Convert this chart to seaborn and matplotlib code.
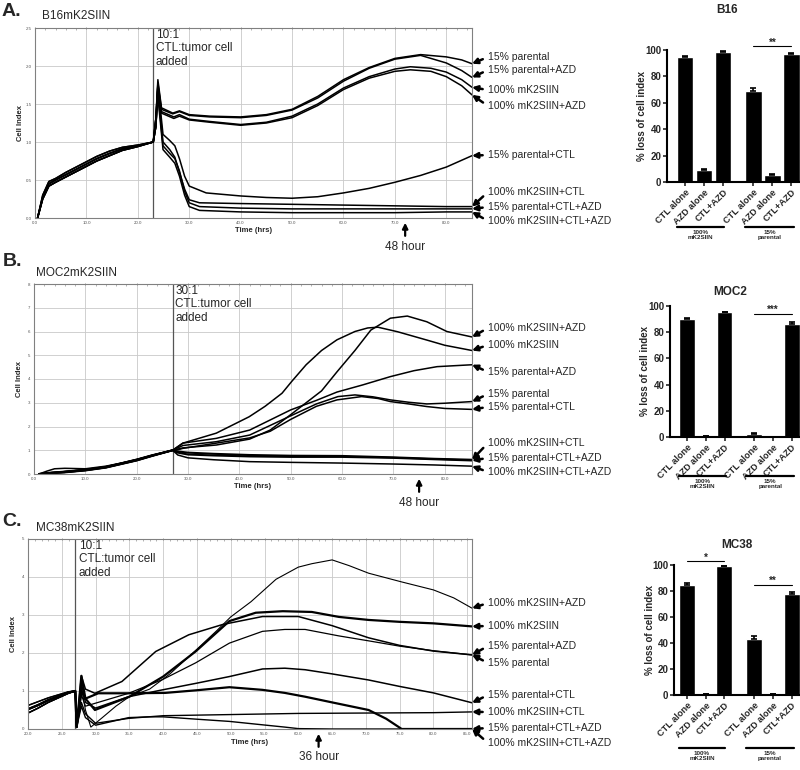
import matplotlib
matplotlib.use("Agg")
import matplotlib.pyplot as plt
import matplotlib.transforms as mtransforms
from matplotlib.ticker import MultipleLocator, FormatStrFormatter
import seaborn as sns

sns.set_theme(style="white")
plt.rcParams["font.family"] = ["Liberation Sans", "DejaVu Sans"]

# ---------------- A. B16mK2SIIN  (hours, cell index) ----------------
A_PRE_HI = [(0.5, 0.0), (1.5, 0.3), (2.7, 0.48), (4, 0.52), (6, 0.6), (8, 0.67), (10, 0.74),
            (12, 0.81), (14.5, 0.88), (17, 0.93), (20, 0.96), (23, 1.0)]
A_PRE_MID = [(0.5, 0.0), (1.5, 0.27), (2.7, 0.45), (4, 0.5), (6, 0.57), (8, 0.64), (10, 0.71),
             (12, 0.78), (14.5, 0.85), (17, 0.91), (20, 0.95), (23, 1.0)]
A_PRE_LO = [(0.5, 0.0), (1.5, 0.25), (2.7, 0.42), (4, 0.47), (6, 0.54), (8, 0.61), (10, 0.68),
            (12, 0.75), (14.5, 0.82), (17, 0.89), (20, 0.94), (23, 1.0)]

A_15 = [(23.5, 1.3), (23.9, 1.82), (24.6, 1.45), (26.8, 1.38), (28.1, 1.41), (30, 1.36), (34, 1.34),
        (40, 1.33), (45, 1.36), (50, 1.43), (55, 1.6), (60, 1.82), (65, 1.98), (70, 2.1), (75, 2.15),
        (80, 2.12), (83, 2.08), (85, 2.03)]
A_15_AZD = [(23.5, 1.3), (23.9, 1.78), (24.6, 1.43), (26.8, 1.37), (28.1, 1.4), (30, 1.35), (34, 1.33),
            (40, 1.32), (45, 1.35), (50, 1.42), (55, 1.58), (60, 1.8), (65, 1.97), (70, 2.09), (75, 2.14),
            (80, 2.04), (83, 1.94), (85, 1.85)]
A_100 = [(23.5, 1.3), (23.9, 1.75), (24.6, 1.4), (27, 1.33), (28.1, 1.36), (30, 1.3), (34, 1.27),
         (40, 1.23), (45, 1.26), (50, 1.34), (55, 1.5), (60, 1.71), (65, 1.86), (70, 1.96), (73, 1.99),
         (77, 1.97), (80, 1.92), (83, 1.82), (85, 1.72)]
A_100_AZD = [(23.5, 1.3), (23.9, 1.7), (24.6, 1.38), (27, 1.31), (28.1, 1.34), (30, 1.29), (34, 1.26),
             (40, 1.22), (45, 1.25), (50, 1.32), (55, 1.48), (60, 1.69), (65, 1.84), (70, 1.93), (73, 1.95),
             (77, 1.93), (80, 1.86), (83, 1.74), (85, 1.62)]
A_15_CTL = [(23.5, 1.2), (23.9, 1.75), (24.9, 1.1), (26.2, 1.02), (27.2, 0.95), (28.1, 0.78), (29.1, 0.55),
            (30, 0.42), (33.3, 0.33), (40, 0.29), (45, 0.27), (50, 0.26), (55, 0.28), (60, 0.33),
            (65, 0.39), (70, 0.47), (75, 0.56), (80, 0.67), (85, 0.82)]
A_100_CTL = [(23.5, 1.2), (23.9, 1.7), (24.9, 1.0), (26.2, 0.9), (27.2, 0.8), (28.1, 0.6), (29.1, 0.38),
             (30, 0.24), (32, 0.2), (40, 0.19), (50, 0.18), (60, 0.17), (70, 0.16), (80, 0.15), (85, 0.15)]
A_15_CTL_AZD = [(23.5, 1.2), (23.9, 1.65), (24.9, 0.95), (26.2, 0.85), (27.2, 0.78), (28.1, 0.62),
                (29.1, 0.35), (30, 0.2), (32, 0.15), (40, 0.13), (50, 0.12), (60, 0.12), (70, 0.12),
                (80, 0.12), (85, 0.12)]
A_100_CTL_AZD = [(23.5, 1.2), (23.9, 1.6), (24.9, 0.9), (26.2, 0.8), (27.2, 0.72), (28.1, 0.55),
                 (29.1, 0.3), (30, 0.15), (32, 0.1), (40, 0.08), (50, 0.07), (60, 0.07), (70, 0.07),
                 (80, 0.08), (85, 0.08)]

# ---------------- B. MOC2mK2SIIN ----------------
B_PRE_A = [(1, 0.0), (3, 0.05), (6, 0.1), (10, 0.18), (14, 0.3), (17, 0.45), (20, 0.6), (23, 0.78), (27, 1.0)]
B_PRE_B = [(1, 0.0), (2.5, 0.12), (4, 0.22), (6, 0.24), (8, 0.23), (10, 0.22), (14, 0.33), (17, 0.46),
           (20, 0.62), (23, 0.8), (27, 1.0)]
B_PRE_C = [(1, 0.0), (3, 0.03), (6, 0.07), (10, 0.15), (14, 0.27), (17, 0.42), (20, 0.57), (23, 0.76), (27, 1.0)]

B_100_AZD = [(28, 1.05), (29, 1.1), (35.5, 1.22), (42, 1.47), (46, 1.85), (50, 2.5), (53, 3.0), (56, 3.5),
             (59, 4.3), (62.5, 5.2), (65.6, 6.06), (69.4, 6.56), (72.7, 6.65), (76.5, 6.41), (80.4, 6.0),
             (85.3, 5.77)]
B_100 = [(28, 1.15), (29, 1.3), (35.5, 1.72), (41.9, 2.41), (45, 2.85), (48.3, 3.4), (50.2, 3.9), (53, 4.6),
         (56, 5.2), (59, 5.65), (62.5, 6.0), (65, 6.15), (67, 6.18), (70.8, 5.99), (76.5, 5.64), (80, 5.42),
         (85.3, 5.2)]
B_15_AZD = [(28, 1.15), (29, 1.3), (35.5, 1.5), (42, 1.85), (50, 2.7), (55, 3.1), (59, 3.45), (64, 3.75),
            (69.4, 4.1), (74, 4.35), (78.5, 4.52), (85.3, 4.6)]
B_15 = [(28, 1.1), (29, 1.2), (35.5, 1.36), (42, 1.64), (50, 2.45), (55, 2.95), (59.2, 3.26), (62.5, 3.33),
        (66, 3.25), (69.4, 3.12), (73, 3.02), (76.5, 2.95), (80, 2.98), (85.3, 3.05)]
B_15_CTL = [(28, 1.02), (29, 1.08), (35.5, 1.3), (42, 1.52), (46, 1.8), (50, 2.3), (55, 2.85), (59, 3.12),
            (63.8, 3.26), (67, 3.18), (69.4, 3.05), (73, 2.95), (76.5, 2.84), (80, 2.76), (85.3, 2.72)]
B_100_CTL = [(28, 0.95), (30, 0.9), (35, 0.85), (42, 0.8), (50, 0.77), (60, 0.76), (70, 0.7), (78, 0.64),
             (85.3, 0.6)]
B_15_CTL_AZD = [(28, 0.9), (30, 0.82), (35, 0.78), (42, 0.74), (50, 0.72), (60, 0.72), (70, 0.68),
                (78, 0.62), (85.3, 0.57)]
B_100_CTL_AZD = [(28, 0.8), (30, 0.68), (35, 0.6), (42, 0.52), (50, 0.49), (60, 0.46), (70, 0.42),
                 (78, 0.38), (85.3, 0.33)]

# ---------------- C. MC38mK2SIIN ----------------
C_PRE_HI = [(20, 0.62), (21.5, 0.72), (23, 0.82), (24.5, 0.9), (26, 0.98), (27, 1.0)]
C_PRE_MID = [(20, 0.52), (21.5, 0.63), (23, 0.76), (24.5, 0.86), (26, 0.96), (27, 1.0)]
C_PRE_LO = [(20, 0.42), (21.5, 0.55), (23, 0.7), (24.5, 0.82), (26, 0.94), (27, 1.0)]

C_100_AZD = [(27.2, 0.1), (27.9, 1.1), (28.5, 0.5), (29.3, 0.05), (31, 0.3), (33, 0.6), (35, 0.85),
             (38, 1.05), (41, 1.45), (45, 2.1), (48, 2.6), (50, 2.95), (53, 3.35), (56.7, 3.94), (60, 4.26),
             (62, 4.35), (65, 4.45), (67.5, 4.3), (70.4, 4.1), (75.3, 3.87), (80, 3.66), (83, 3.45),
             (85.7, 3.18)]
C_100 = [(27.2, 0.05), (27.9, 1.4), (28.5, 0.8), (29.9, 0.5), (35, 0.85), (40, 1.38), (44.8, 2.04),
         (49.8, 2.84), (53.7, 3.06), (57.7, 3.1), (62, 3.08), (66, 2.95), (70.4, 2.87), (75, 2.82),
         (80, 2.78), (85.7, 2.7)]
C_15_AZD = [(27.2, 0.05), (27.9, 0.9), (28.5, 0.6), (30, 0.68), (34.9, 0.94), (39.9, 1.3), (44.8, 1.74),
            (49.8, 2.26), (54.7, 2.57), (58, 2.62), (61, 2.62), (66, 2.45), (70.4, 2.32), (75, 2.18),
            (80, 2.06), (85.7, 1.95)]
C_15 = [(27.2, 0.05), (27.9, 1.4), (28.5, 1.05), (29.9, 0.94), (33.9, 1.25), (38.9, 2.04), (43.8, 2.48),
        (48.8, 2.75), (54.7, 2.96), (60, 2.96), (65, 2.72), (70.4, 2.4), (75, 2.2), (80, 2.05), (85.7, 1.95)]
C_15_CTL = [(27.2, 0.05), (27.9, 1.2), (28.5, 0.7), (30, 0.55), (34.9, 0.85), (39.9, 1.03), (44.8, 1.2),
            (49.8, 1.38), (54.7, 1.58), (58, 1.6), (61, 1.56), (65, 1.45), (70.4, 1.29), (75, 1.12),
            (80, 0.95), (85.7, 0.69)]
C_100_CTL = [(27.2, 0.05), (27.9, 0.7), (28.5, 0.4), (30, 0.15), (34.9, 0.28), (40, 0.35), (50, 0.38),
             (60, 0.41), (70, 0.42), (80, 0.43), (85.7, 0.45)]
C_15_CTL_AZD = [(27.2, 0.05), (27.9, 1.0), (28.5, 0.8), (30.4, 0.94), (35, 0.94), (40.3, 0.95), (45, 1.02),
                (49.8, 1.1), (54.7, 1.03), (58, 0.95), (61, 0.85), (65, 0.7), (70.4, 0.5), (73, 0.27),
                (75.3, 0.0), (80, 0.0), (85.7, 0.0)]
C_100_CTL_AZD = [(27.2, 0.05), (27.9, 0.6), (28.5, 0.3), (30, 0.1), (34.9, 0.3), (38, 0.32), (40, 0.32),
                 (44.8, 0.26), (49.8, 0.2), (54.7, 0.11), (58, 0.05), (60, 0.01), (65, 0.0), (85.7, 0.0)]

# ---------------- bar charts: % loss of cell index ----------------
BAR_LABELS = ["CTL alone", "AZD alone", "CTL+AZD", "CTL alone", "AZD alone", "CTL+AZD"]
GROUPS = ["100%\nmK2SIIN", "15%\nparental"]
B16_MEAN = [95, 9, 98.5, 69, 5, 97]
B16_ERR = [0.6, 1.0, 0.5, 2.5, 1.0, 1.0]
MOC2_MEAN = [90, 0.6, 95.5, 2.5, 0.0, 86.5]
MOC2_ERR = [1.0, 0.2, 0.3, 0.5, 0.0, 1.5]
MC38_MEAN = [85, 0.6, 99, 43, 0.8, 78]
MC38_ERR = [1.5, 0.2, 0.3, 2.5, 0.3, 1.0]
B16_SIG = [(3, 5, 103, "**")]
MOC2_SIG = [(3, 5, 94, "***")]
MC38_SIG = [(0, 2, 103, "*"), (3, 5, 85, "**")]

# ---------------- layout ----------------
W, H = 800, 770
BAR_POS = [0, 1, 2, 3.6, 4.6, 5.6]


def rect(x0, y0, x1, y1):
    return [x0 / W, 1 - y1 / H, (x1 - x0) / W, (y1 - y0) / H]


fig = plt.figure(figsize=(W / 100, H / 100), dpi=100)


def rtca(box, curves, label_y, xlim, ylim, xstep, ystep, xfmt, yfmt, add_t, ratio, title,
         letter, title_px, letter_px, hour_t, hour_txt):
    ax = fig.add_axes(rect(*box))
    for name, pts, lw in curves:
        t, v = zip(*pts)
        sns.lineplot(x=list(t), y=list(v), ax=ax, color="black", lw=lw, sort=False, estimator=None)
    ax.set_xlim(*xlim)
    ax.set_ylim(*ylim)
    ax.xaxis.set_major_locator(MultipleLocator(xstep))
    ax.yaxis.set_major_locator(MultipleLocator(ystep))
    ax.xaxis.set_major_formatter(FormatStrFormatter(xfmt))
    ax.yaxis.set_major_formatter(FormatStrFormatter(yfmt))
    ax.xaxis.set_minor_locator(MultipleLocator(xstep / 5))
    ax.grid(True, which="major", color="#c9c9c9", lw=0.6)
    ax.set_axisbelow(True)
    ax.tick_params(which="major", labelsize=3.2, labelcolor="#555", length=2, width=0.5, pad=1.5,
                   color="#777", top=True, direction="inout")
    ax.tick_params(which="minor", length=1.5, width=0.4, color="#777", top=True, bottom=False,
                   direction="in")
    for s in ax.spines.values():
        s.set_color("#808080")
        s.set_linewidth(0.8)
    ax.axvline(add_t, color="#555", lw=0.9, zorder=1)
    ax.set_ylabel("Cell Index", fontsize=5.5, fontweight="bold")
    ax.yaxis.set_label_coords(-0.025, 0.5)
    ax.set_xlabel("Time (hrs)", fontsize=5.5, fontweight="bold")
    ax.xaxis.set_label_coords(0.5, -0.05)
    ax.text(add_t + 0.5, 0.995, ratio + "\nCTL:tumor cell\nadded", transform=ax.get_xaxis_transform(),
            ha="left", va="top", fontsize=8.5, linespacing=1.15)
    fig.text(title_px[0] / W, 1 - title_px[1] / H, title, fontsize=8.5, ha="left", va="center")
    fig.text(letter_px[0] / W, 1 - letter_px[1] / H, letter, fontsize=14, fontweight="bold",
             ha="left", va="center")
    tr = ax.get_xaxis_transform()
    ax.annotate(hour_txt, xy=(hour_t, -0.025), xycoords=tr, xytext=(hour_t, -0.15), textcoords=tr,
                ha="center", va="center", fontsize=8.5,
                arrowprops=dict(arrowstyle="-|>", color="black", lw=1.6, mutation_scale=8,
                                shrinkA=1, shrinkB=0, relpos=(0.5, 1)))
    for (name, pts, lw), ly in zip(curves, label_y):
        ax.annotate(name, xy=(xlim[1], pts[-1][1]), xycoords="data",
                    xytext=(488 / W, 1 - ly / H), textcoords="figure fraction",
                    ha="left", va="center", fontsize=7.5, annotation_clip=False,
                    arrowprops=dict(arrowstyle="-|>", color="black", lw=1.8, mutation_scale=8,
                                    shrinkA=1.5, shrinkB=0, relpos=(0, 0.5)))
    return ax


def bars(box, xl, mean, err, sig, title, title_px, line_px):
    ax = fig.add_axes(rect(*box))
    sns.barplot(x=BAR_POS, y=mean, native_scale=True, color="black", saturation=1, width=0.85,
                errorbar=None, ax=ax)
    ax.errorbar(BAR_POS, mean, yerr=[[0] * len(err), err], fmt="none", ecolor="black",
                elinewidth=1.2, capsize=2.5, capthick=1.2, clip_on=False)
    ax.set_xlim(xl, 6.05)
    ax.set_ylim(0, 100)
    ax.set_yticks([0, 20, 40, 60, 80, 100])
    ax.set_xticks(BAR_POS)
    ax.set_xticklabels(BAR_LABELS, rotation=45, ha="right", rotation_mode="anchor",
                       fontsize=6.6, fontweight="bold")
    for lab in ax.get_yticklabels():
        lab.set_fontweight("bold")
    ax.tick_params(axis="y", labelsize=7, length=3, width=1.2, pad=1, left=True)
    ax.tick_params(axis="x", length=3, width=1.2, pad=1, bottom=True)
    sns.despine(ax=ax)
    for s in ("left", "bottom"):
        ax.spines[s].set_linewidth(1.5)
        ax.spines[s].set_color("black")
    ax.set_ylabel("% loss of cell index", fontsize=7, fontweight="bold")
    ax.yaxis.set_label_coords(-0.15, 0.5)
    fig.text(title_px[0] / W, 1 - title_px[1] / H, title, fontsize=8.5, fontweight="bold",
             ha="center", va="center")
    for i, j, y, stars in sig:
        ax.plot([BAR_POS[i], BAR_POS[j]], [y, y], color="black", lw=0.8, clip_on=False)
        ax.text((BAR_POS[i] + BAR_POS[j]) / 2, y - 1, stars, ha="center", va="bottom",
                fontsize=7, fontweight="bold")
    tr = mtransforms.blended_transform_factory(ax.transData, fig.transFigure)
    for (x0, x1), grp in zip([(-0.45, 2.05), (3.15, 5.75)], GROUPS):
        yl = 1 - line_px / H
        ax.plot([x0, x1], [yl, yl], transform=tr, color="black", lw=1.6, clip_on=False)
        ax.text((x0 + x1) / 2, yl - 3 / H, grp, transform=tr, ha="center", va="top",
                fontsize=4.5, fontweight="bold", linespacing=1.0)
    return ax


curves_a = [("15% parental", A_PRE_HI + A_15, 1.1), ("15% parental+AZD", A_PRE_MID + A_15_AZD, 1.1),
            ("100% mK2SIIN", A_PRE_HI + A_100, 1.1), ("100% mK2SIIN+AZD", A_PRE_LO + A_100_AZD, 1.1),
            ("15% parental+CTL", A_PRE_MID + A_15_CTL, 1.1), ("100% mK2SIIN+CTL", A_PRE_LO + A_100_CTL, 1.1),
            ("15% parental+CTL+AZD", A_PRE_MID + A_15_CTL_AZD, 1.1),
            ("100% mK2SIIN+CTL+AZD", A_PRE_LO + A_100_CTL_AZD, 1.1)]
rtca((35, 28, 472, 218), curves_a, [57, 70, 90, 106, 155, 192, 207, 221], (0, 85), (0, 2.5), 10, 0.5,
     "%.1f", "%.1f", 23, "10:1", "B16mK2SIIN", "A.", (42, 16), (2, 12), 72, "48 hour")

curves_b = [("100% mK2SIIN+AZD", B_PRE_A + B_100_AZD, 1.1), ("100% mK2SIIN", B_PRE_B + B_100, 1.1),
            ("15% parental+AZD", B_PRE_A + B_15_AZD, 1.1), ("15% parental", B_PRE_C + B_15, 1.1),
            ("15% parental+CTL", B_PRE_C + B_15_CTL, 1.1), ("100% mK2SIIN+CTL", B_PRE_A + B_100_CTL, 1.5),
            ("15% parental+CTL+AZD", B_PRE_C + B_15_CTL_AZD, 1.5),
            ("100% mK2SIIN+CTL+AZD", B_PRE_A + B_100_CTL_AZD, 1.1)]
rtca((34, 284, 472, 474), curves_b, [328, 345, 372, 394, 407, 443, 458, 472], (0, 85.3), (0, 8), 10, 1,
     "%.1f", "%d", 27, "30:1", "MOC2mK2SIIN", "B.", (36, 273), (3, 262), 75, "48 hour")

curves_c = [("100% mK2SIIN+AZD", C_PRE_HI + C_100_AZD, 0.8), ("100% mK2SIIN", C_PRE_MID + C_100, 1.6),
            ("15% parental+AZD", C_PRE_LO + C_15_AZD, 0.9), ("15% parental", C_PRE_HI + C_15, 1.1),
            ("15% parental+CTL", C_PRE_MID + C_15_CTL, 1.1), ("100% mK2SIIN+CTL", C_PRE_LO + C_100_CTL, 1.0),
            ("15% parental+CTL+AZD", C_PRE_MID + C_15_CTL_AZD, 1.6),
            ("100% mK2SIIN+CTL+AZD", C_PRE_LO + C_100_CTL_AZD, 1.0)]
rtca((28, 539, 472, 729), curves_c, [603, 626, 646, 663, 695, 712, 728, 743], (20, 85.7), (0, 5), 5, 1,
     "%.1f", "%d", 27, "10:1", "MC38mK2SIIN", "C.", (36, 528), (2, 521), 63, "36 hour")

bars((667, 50, 800, 182), -0.95, B16_MEAN, B16_ERR, B16_SIG, "B16", (727, 10), 227)
bars((670, 306, 800, 437), -0.93, MOC2_MEAN, MOC2_ERR, MOC2_SIG, "MOC2", (730, 292), 476)
bars((674, 565, 800, 695), -0.7, MC38_MEAN, MC38_ERR, MC38_SIG, "MC38", (737, 545), 748)

fig.savefig("out.png", dpi=100)
